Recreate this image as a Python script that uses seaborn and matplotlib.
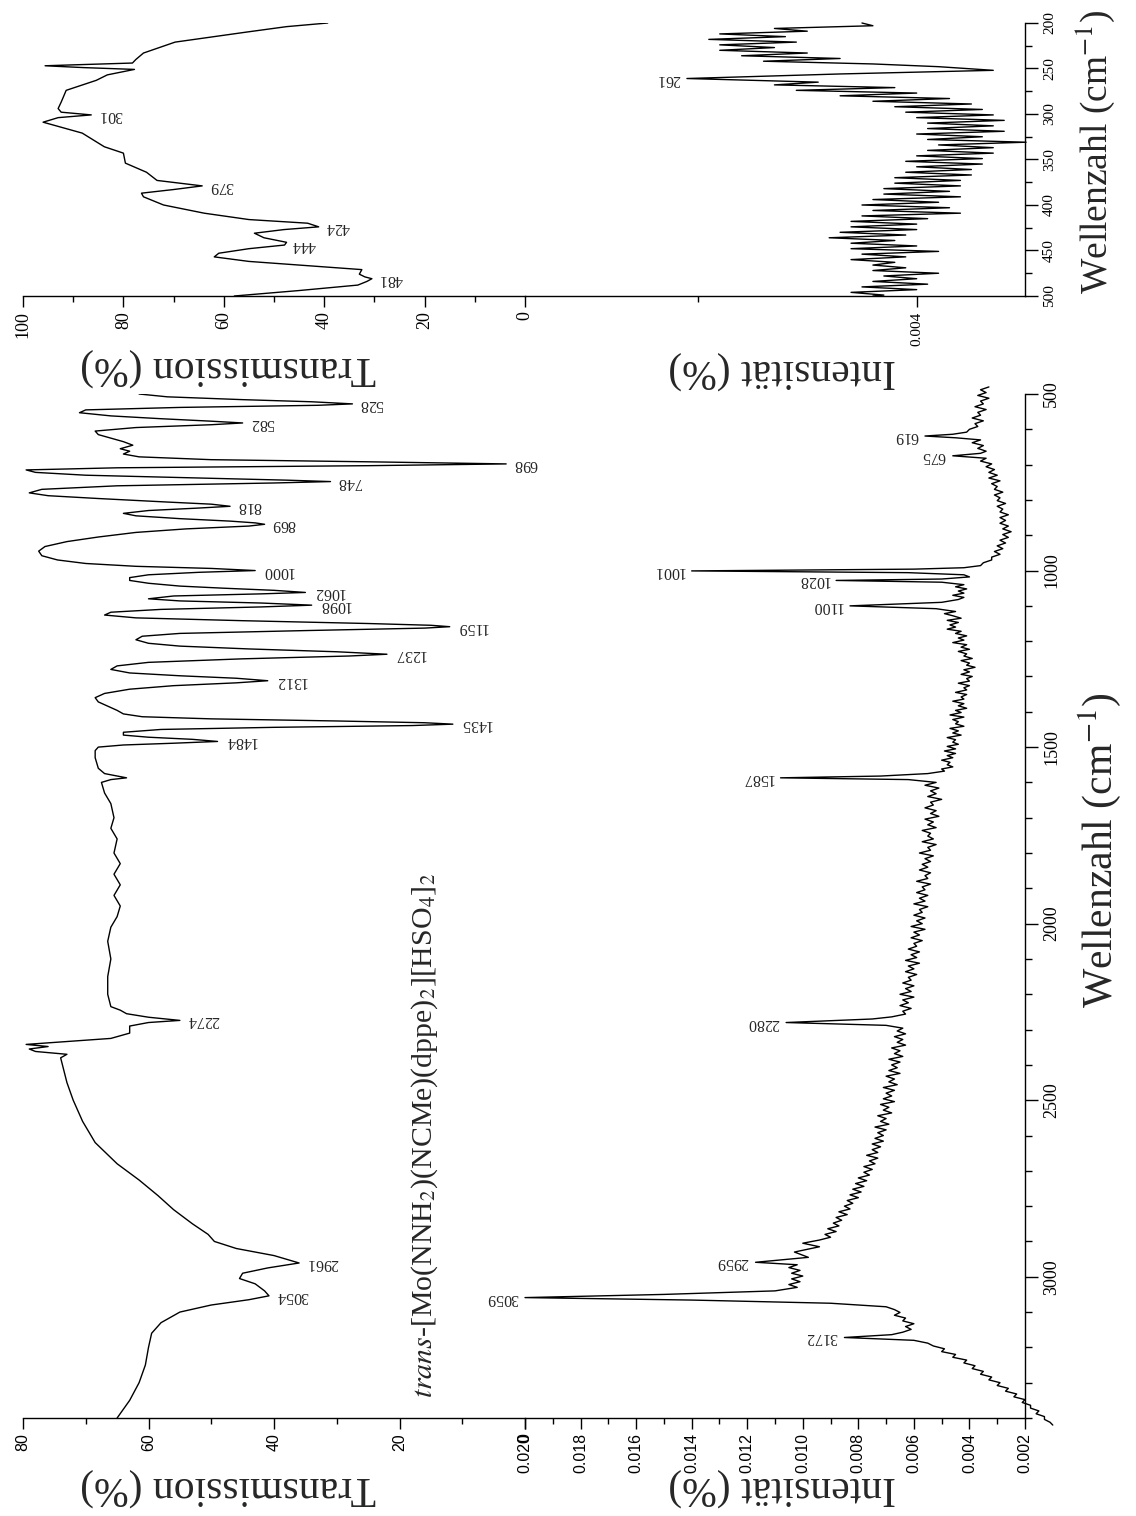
import matplotlib
matplotlib.use("Agg")
import matplotlib.pyplot as plt
from matplotlib.ticker import MultipleLocator
import seaborn as sns

# IR spectrum (mid IR): (wavenumber, transmission %)
ir_pts = [(480, 61), (500, 61.5), (508, 57), (516, 45), (522, 34), (528, 27.5), (532, 33), (538, 55), (545, 70), (553, 71),
          (562, 66), (570, 58), (577, 50), (582, 45), (587, 50), (595, 62), (605, 68.5), (615, 68), (625, 66), (635, 64),
          (645, 62.5), (655, 64.5), (662, 63), (670, 64), (678, 61.5), (686, 50), (692, 25), (698, 3), (703, 25), (709, 65),
          (715, 79.5), (722, 78), (730, 70), (738, 52), (744, 38), (748, 31), (752, 40), (760, 65), (770, 77), (780, 79),
          (788, 76), (796, 68), (806, 57), (812, 50), (818, 47), (823, 52), (830, 60), (838, 64), (845, 62), (853, 55),
          (860, 47), (865, 43), (869, 41.5), (874, 44), (882, 54), (892, 62), (905, 68), (918, 73), (932, 76.5), (945, 77.5),
          (958, 77), (970, 74.5), (980, 70), (988, 62), (994, 50), (1000, 43), (1005, 52), (1012, 60), (1020, 63), (1028, 63),
          (1036, 60), (1044, 55), (1050, 48), (1056, 40), (1062, 35), (1066, 42), (1072, 56), (1080, 60), (1086, 55), (1092, 42),
          (1098, 34), (1103, 42), (1110, 58), (1118, 66), (1126, 67), (1134, 62), (1142, 45), (1150, 25), (1155, 15), (1159, 12),
          (1163, 16), (1170, 35), (1178, 55), (1186, 61), (1196, 62), (1206, 60), (1214, 55), (1222, 44), (1230, 30), (1237, 22),
          (1242, 28), (1250, 45), (1260, 60), (1270, 65), (1280, 66), (1290, 63), (1298, 55), (1305, 46), (1312, 41), (1318, 46),
          (1326, 56), (1336, 63), (1348, 67), (1360, 68.5), (1372, 68), (1384, 66.5), (1396, 65), (1406, 64), (1414, 61), (1420, 50),
          (1426, 30), (1431, 16), (1435, 11.5), (1439, 18), (1444, 40), (1450, 58), (1458, 64), (1466, 64), (1472, 60), (1478, 53),
          (1484, 49), (1489, 56), (1494, 64), (1500, 68), (1510, 68.5), (1530, 68.5), (1560, 68), (1575, 67), (1582, 65), (1587, 63.5),
          (1592, 66), (1600, 67.5), (1630, 67), (1660, 66), (1700, 65.5), (1730, 66), (1760, 65), (1800, 65.5), (1830, 64.5), (1860, 65.5),
          (1890, 64.5), (1920, 65.5), (1950, 64.5), (1980, 65), (2010, 66), (2050, 66.5), (2100, 66), (2150, 66.5), (2200, 66.5), (2235, 66),
          (2245, 64.5), (2255, 63.5), (2265, 60), (2274, 55), (2280, 60), (2290, 63), (2310, 63), (2325, 66), (2335, 74), (2342, 79.5),
          (2348, 76), (2355, 79), (2362, 78), (2370, 73), (2380, 74), (2450, 73), (2500, 72), (2560, 70.5), (2620, 68.5), (2680, 65),
          (2726, 61.5), (2770, 58.5), (2810, 56), (2850, 53), (2880, 50.5), (2900, 49.5), (2920, 46), (2940, 40), (2961, 36), (2975, 41),
          (2990, 45), (3005, 45.5), (3020, 43), (3040, 41.5), (3054, 40.8), (3065, 44), (3080, 50), (3100, 55), (3130, 58), (3160, 59.5),
          (3200, 60), (3250, 60.5), (3300, 61.5), (3350, 63), (3400, 65), (3420, 65.5)]
ir_peaks = [528, 582, 698, 748, 818, 869, 1000, 1062, 1098, 1159, 1237, 1312, 1435, 1484, 2274, 2961, 3054]

# Raman spectrum: (wavenumber, intensity)
raman_pts = [(480, .0033), (488, .0036), (496, .0034), (504, .0037), (512, .0033), (520, .0036), (528, .0035), (536, .0038),
             (544, .0034), (552, .0037), (560, .0036), (568, .0039), (576, .0035), (584, .0038), (592, .0037), (600, .0040),
             (608, .0041), (614, .0046), (619, .0056), (624, .0045), (630, .0036), (638, .0039), (646, .0035), (654, .0037),
             (662, .0034), (668, .0036), (675, .0046), (682, .0034), (690, .0036), (698, .0032), (706, .0034), (714, .0031),
             (722, .0033), (730, .0030), (738, .0033), (746, .0029), (754, .0032), (762, .0030), (770, .0031), (778, .0028),
             (786, .0031), (794, .0029), (802, .0030), (810, .0027), (818, .0030), (826, .0028), (834, .0029), (842, .0026),
             (850, .0029), (858, .0027), (866, .0029), (874, .0026), (882, .0028), (890, .0025), (898, .0028), (906, .0026),
             (914, .0029), (922, .0027), (930, .0030), (938, .0028), (946, .0031), (954, .0029), (962, .0032), (970, .0032),
             (978, .0035), (986, .0036), (992, .0042), (996, .0060), (1001, .0140), (1006, .0062), (1012, .0042), (1018, .0040),
             (1024, .0050), (1028, .0088), (1033, .0050), (1040, .0042), (1046, .0045), (1052, .0041), (1058, .0044), (1064, .0042),
             (1070, .0046), (1076, .0042), (1082, .0044), (1090, .0050), (1100, .0083), (1108, .0052), (1116, .0045), (1122, .0049),
             (1128, .0046), (1135, .0043), (1141, .0048), (1147, .0044), (1154, .0047), (1160, .0045), (1166, .0048), (1172, .0043),
             (1178, .0045), (1185, .0041), (1191, .0044), (1197, .0042), (1204, .0046), (1210, .0041), (1217, .0043), (1223, .0040),
             (1229, .0044), (1236, .0041), (1242, .0042), (1249, .0039), (1255, .0043), (1262, .0040), (1268, .0041), (1274, .0038),
             (1281, .0042), (1287, .0040), (1294, .0043), (1300, .0039), (1306, .0041), (1313, .0040), (1319, .0044), (1326, .0040),
             (1332, .0042), (1338, .0041), (1345, .0045), (1351, .0041), (1358, .0043), (1364, .0042), (1370, .0046), (1377, .0042),
             (1383, .0044), (1390, .0041), (1396, .0045), (1402, .0043), (1409, .0047), (1415, .0042), (1422, .0046), (1428, .0044),
             (1434, .0045), (1441, .0042), (1447, .0047), (1454, .0044), (1460, .0046), (1466, .0043), (1473, .0048), (1479, .0045),
             (1486, .0046), (1492, .0044), (1498, .0048), (1505, .0045), (1511, .0049), (1518, .0045), (1524, .0048), (1530, .0046),
             (1537, .0050), (1543, .0047), (1550, .0048), (1556, .0046), (1562, .0050), (1568, .0049), (1575, .0055), (1582, .0072),
             (1587, .0108), (1592, .0062), (1600, .0052), (1608, .0056), (1616, .0051), (1624, .0054), (1632, .0052), (1640, .0055),
             (1648, .0050), (1656, .0054), (1664, .0053), (1672, .0056), (1680, .0052), (1688, .0054), (1696, .0051), (1704, .0056),
             (1712, .0053), (1720, .0055), (1728, .0052), (1736, .0057), (1744, .0054), (1752, .0055), (1760, .0053), (1768, .0057),
             (1776, .0052), (1784, .0055), (1792, .0054), (1800, .0058), (1808, .0053), (1816, .0056), (1824, .0054), (1832, .0057),
             (1840, .0055), (1848, .0058), (1856, .0054), (1864, .0056), (1872, .0055), (1880, .0059), (1888, .0054), (1896, .0057),
             (1904, .0056), (1912, .0059), (1920, .0055), (1928, .0058), (1936, .0056), (1944, .0060), (1952, .0055), (1960, .0058),
             (1968, .0057), (1976, .0060), (1984, .0056), (1992, .0059), (2000, .0057), (2008, .0061), (2016, .0056), (2024, .0060),
             (2032, .0058), (2040, .0061), (2048, .0057), (2056, .0060), (2064, .0059), (2072, .0062), (2080, .0058), (2088, .0061),
             (2096, .0059), (2104, .0063), (2112, .0058), (2120, .0062), (2128, .0060), (2136, .0063), (2144, .0059), (2152, .0062),
             (2160, .0061), (2168, .0064), (2176, .0060), (2184, .0063), (2192, .0061), (2200, .0065), (2208, .0060), (2216, .0064),
             (2224, .0062), (2232, .0065), (2240, .0061), (2248, .0064), (2256, .0063), (2264, .0068), (2270, .0075), (2280, .0106),
             (2288, .0070), (2296, .0064), (2304, .0066), (2312, .0063), (2320, .0067), (2328, .0064), (2336, .0066), (2344, .0063),
             (2352, .0068), (2360, .0065), (2368, .0067), (2376, .0064), (2384, .0069), (2392, .0065), (2400, .0068), (2408, .0066),
             (2416, .0069), (2424, .0065), (2432, .0070), (2440, .0067), (2448, .0069), (2456, .0066), (2464, .0071), (2472, .0067),
             (2480, .0070), (2488, .0068), (2496, .0071), (2504, .0067), (2512, .0072), (2520, .0069), (2528, .0071), (2536, .0068),
             (2544, .0073), (2552, .0070), (2560, .0072), (2568, .0069), (2576, .0074), (2584, .0070), (2592, .0073), (2600, .0071),
             (2608, .0074), (2616, .0071), (2624, .0075), (2632, .0072), (2640, .0075), (2648, .0073), (2656, .0077), (2664, .0073),
             (2672, .0076), (2680, .0074), (2688, .0078), (2696, .0075), (2704, .0078), (2712, .0076), (2720, .0080), (2728, .0077),
             (2736, .0081), (2744, .0078), (2752, .0082), (2760, .0079), (2768, .0083), (2776, .0080), (2784, .0084), (2792, .0082),
             (2800, .0085), (2808, .0083), (2816, .0087), (2824, .0084), (2832, .0088), (2840, .0086), (2848, .0089), (2856, .0087),
             (2864, .0091), (2872, .0088), (2880, .0092), (2888, .0090), (2896, .0094), (2905, .0100), (2915, .0094), (2930, .0103),
             (2945, .0098), (2959, .0117), (2966, .0102), (2974, .0105), (2982, .0101), (2990, .0104), (2998, .0100), (3006, .0104),
             (3014, .0101), (3022, .0105), (3030, .0102), (3040, .0110), (3050, .0150), (3059, .0200), (3066, .0140), (3075, .0090),
             (3085, .0070), (3093, .0067), (3101, .0065), (3109, .0067), (3117, .0063), (3125, .0064), (3133, .0060), (3141, .0063),
             (3149, .0061), (3157, .0064), (3164, .0068), (3172, .0085), (3180, .0060), (3188, .0055), (3196, .0053), (3204, .0049),
             (3212, .0050), (3220, .0045), (3228, .0046), (3236, .0041), (3244, .0042), (3252, .0038), (3260, .0039), (3268, .0035),
             (3276, .0036), (3284, .0032), (3292, .0033), (3300, .0029), (3308, .0030), (3316, .0026), (3324, .0027), (3332, .0023),
             (3340, .0024), (3348, .0020), (3356, .0021), (3364, .0018), (3372, .0018), (3380, .0015), (3388, .0016), (3396, .0013),
             (3404, .0013), (3412, .0011), (3420, .0010)]
raman_peaks = [619, 675, 1001, 1028, 1100, 1587, 2280, 2959, 3059, 3172]

# far IR: (wavenumber, transmission %)
fir_pts = [(200, 39.3), (204, 47.5), (210, 55.5), (221, 69.7), (233, 76), (240, 77.5), (244, 78.2), (246, 90), (247, 95.6), (249, 88),
           (251, 77.8), (257, 83.2), (263, 85.4), (274, 91.4), (287, 92.4), (294, 93), (298, 92.4), (301, 86.4), (304, 93), (309, 96),
           (321, 88.2), (336, 83.8), (343, 80), (354, 79.6), (364, 75.4), (373, 73.3), (379, 64.3), (383, 70), (387, 76.4), (391, 76),
           (400, 72), (409, 63.9), (416, 55), (420, 43.3), (424, 41.1), (427, 48), (431, 53.9), (436, 52), (441, 47.5), (444, 47.9),
           (448, 55), (453, 61), (457, 61.9), (462, 55), (471, 32.5), (476, 33), (479, 31.9), (481, 30.5), (484, 31.5), (488, 33.3),
           (494, 45), (500, 57.9)]
fir_peaks = [301, 379, 424, 444, 481]

# far Raman: (wavenumber, intensity)
fr_pts = [(200, .0045), (203, .0044), (206, .0053), (209, .0050), (212, .0058), (215, .0052), (218, .0059), (221, .0051),
          (224, .0058), (227, .0053), (230, .0058), (233, .0050), (236, .0056), (239, .0047), (242, .0054), (245, .0044),
          (248, .0038), (252, .0033), (256, .0047), (261, .0061), (265, .0049), (268, .0053), (271, .0042), (274, .0051),
          (277, .0040), (280, .0047), (283, .0037), (286, .0044), (289, .0035), (292, .0042), (295, .0034), (298, .0041),
          (301, .0033), (304, .0040), (307, .0032), (310, .0039), (313, .0033), (316, .0039), (319, .0032), (322, .0040),
          (325, .0034), (328, .0039), (331, .0030), (334, .0038), (337, .0033), (340, .0039), (343, .0033), (346, .0040),
          (349, .0034), (352, .0041), (355, .0034), (358, .0040), (361, .0035), (364, .0041), (367, .0035), (370, .0042),
          (373, .0036), (376, .0042), (379, .0036), (382, .0043), (385, .0037), (388, .0043), (391, .0036), (394, .0044),
          (397, .0038), (400, .0045), (403, .0037), (406, .0044), (409, .0036), (412, .0045), (415, .0039), (418, .0046),
          (421, .0040), (424, .0046), (427, .0040), (430, .0047), (433, .0041), (436, .0048), (439, .0042), (442, .0046),
          (445, .0040), (448, .0046), (451, .0038), (454, .0045), (457, .0041), (460, .0046), (463, .0042), (466, .0044),
          (469, .0041), (472, .0044), (475, .0038), (478, .0043), (481, .0040), (484, .0044), (487, .0039), (490, .0045),
          (493, .0040), (496, .0046), (499, .0043), (500, .0044)]
fr_peaks = [261]

ir_ticks = [80, 60, 40, 20, 0]
ra_ticks = [0.020, 0.018, 0.016, 0.014, 0.012, 0.010, 0.008, 0.006, 0.004, 0.002]
wn_ticks = [500, 1000, 1500, 2000, 2500, 3000]
fir_ticks = [100, 80, 60, 40, 20, 0]
fra_ticks = [0.004]
fwn_ticks = [500, 450, 400, 350, 300, 250, 200]

title = r"$\mathit{trans}$-[Mo(NNH$_2$)(NCMe)(dppe)$_2$][HSO$_4$]$_2$"

sns.set_style("white")
plt.rcParams["font.family"] = ["Liberation Serif", "DejaVu Serif"]
plt.rcParams["mathtext.fontset"] = "stix"

W, H = 1136, 1516
fig = plt.figure(figsize=(W / 100, H / 100), dpi=100)


def box(x0, y0, x1, y1):
    return [x0 / W, 1 - y1 / H, (x1 - x0) / W, (y1 - y0) / H]


def px(x, y):
    return x / W, 1 - y / H


ax_ir = fig.add_axes(box(23, 394, 525, 1418))
ax_ra = fig.add_axes(box(525, 394, 1025, 1418))
ax_fir = fig.add_axes(box(23, 23, 525, 296))
ax_fra = fig.add_axes(box(525, 23, 1025, 296))

series = [(ax_ir, ir_pts), (ax_ra, raman_pts), (ax_fir, fir_pts), (ax_fra, fr_pts)]
for ax, pts in series:
    wn, val = zip(*pts)
    sns.lineplot(x=list(val), y=list(wn), ax=ax, color="black", linewidth=1.0, sort=False, estimator=None)
for ln in ax_ra.lines + ax_fra.lines:
    ln.set_clip_on(False)

ax_ir.set_xlim(80, 0)
ax_ra.set_xlim(0.020, 0.002)
ax_ir.set_ylim(3400, 500)
ax_ra.set_ylim(3400, 500)
ax_fir.set_xlim(100, 0)
ax_fra.set_xlim(0.00758, 0.00301)
ax_fir.set_ylim(500, 200)
ax_fra.set_ylim(500, 200)

for ax in [ax_ir, ax_ra, ax_fir, ax_fra]:
    ax.patch.set_visible(False)
    ax.set_xlabel("")
    ax.set_ylabel("")
    for s in ["top", "left", "right"]:
        ax.spines[s].set_visible(False)
    ax.spines["bottom"].set_linewidth(1.0)
    ax.spines["bottom"].set_color("black")
    ax.tick_params(axis="x", which="major", direction="out", length=8, width=1, pad=3, bottom=True, colors="black")
    ax.tick_params(axis="x", which="minor", direction="out", length=4.5, width=1, bottom=True, colors="black")
    ax.set_yticks([])

for ax in [ax_ra, ax_fra]:
    ax.spines["right"].set_visible(True)
    ax.spines["right"].set_color("black")
    ax.spines["right"].set_linewidth(1.0)
    ax.yaxis.tick_right()
    ax.tick_params(axis="y", which="major", direction="out", length=9, width=1, pad=4, right=True, left=False, colors="black")
    ax.tick_params(axis="y", which="minor", direction="out", length=5, width=1, right=True, left=False, colors="black")

sans = "Liberation Sans"
serif = "Liberation Serif"

ax_ir.set_xticks(ir_ticks, labels=[str(t) for t in ir_ticks], rotation=90, fontsize=11.5, fontfamily=sans)
ax_ir.xaxis.set_minor_locator(MultipleLocator(10))
ax_ra.set_xticks(ra_ticks, labels=[f"{t:.3f}" for t in ra_ticks], rotation=90, fontsize=11.5, fontfamily=sans)
ax_ra.xaxis.set_minor_locator(MultipleLocator(0.001))
ax_ra.set_yticks(wn_ticks, labels=[str(t) for t in wn_ticks], rotation=90, fontsize=13, fontfamily=serif, va="center")
ax_ra.yaxis.set_minor_locator(MultipleLocator(100))

ax_fir.set_xticks(fir_ticks, labels=[str(t) for t in fir_ticks], rotation=90, fontsize=13, fontfamily=serif)
ax_fir.xaxis.set_minor_locator(MultipleLocator(10))
ax_fra.set_xticks(fra_ticks, labels=[f"{t:.3f}" for t in fra_ticks], rotation=90, fontsize=11, fontfamily=serif)
ax_fra.xaxis.set_minor_locator(MultipleLocator(0.002))
ax_fra.set_yticks(fwn_ticks, labels=[str(t) for t in fwn_ticks], rotation=90, fontsize=11, fontfamily=serif, va="center")
ax_fra.yaxis.set_minor_locator(MultipleLocator(25))

# peak labels
lab_kw = dict(textcoords="offset points", rotation=180, va="center", fontsize=11.5,
              fontfamily=serif, annotation_clip=False)
for ax, pts, peaks, dx in [(ax_ir, ir_pts, ir_peaks, 5), (ax_ra, raman_pts, raman_peaks, -5),
                           (ax_fir, fir_pts, fir_peaks, 5), (ax_fra, fr_pts, fr_peaks, -5)]:
    lookup = dict(pts)
    for w in peaks:
        ax.annotate(str(w), (lookup[w], w), xytext=(dx, 0), ha="left" if dx > 0 else "right", **lab_kw)

# axis titles
big = dict(fontfamily=serif, ha="center", va="center")
fig.text(*px(228, 1487), "Transmission (%)", rotation=180, fontsize=30, **big)
fig.text(*px(782, 1487), "Intensität (%)", rotation=180, fontsize=30, **big)
fig.text(*px(228, 367), "Transmission (%)", rotation=180, fontsize=30, **big)
fig.text(*px(782, 370), "Intensität (%)", rotation=180, fontsize=30, **big)
fig.text(*px(1100, 850), "Wellenzahl (cm$^{-1}$)", rotation=90, fontsize=30, **big)
fig.text(*px(1095, 152), "Wellenzahl (cm$^{-1}$)", rotation=90, fontsize=27, **big)
fig.text(*px(425, 1398), title, rotation=90, fontsize=21.5, fontfamily=serif, ha="center", va="bottom")

fig.savefig("out.png", dpi=100, facecolor="white")
